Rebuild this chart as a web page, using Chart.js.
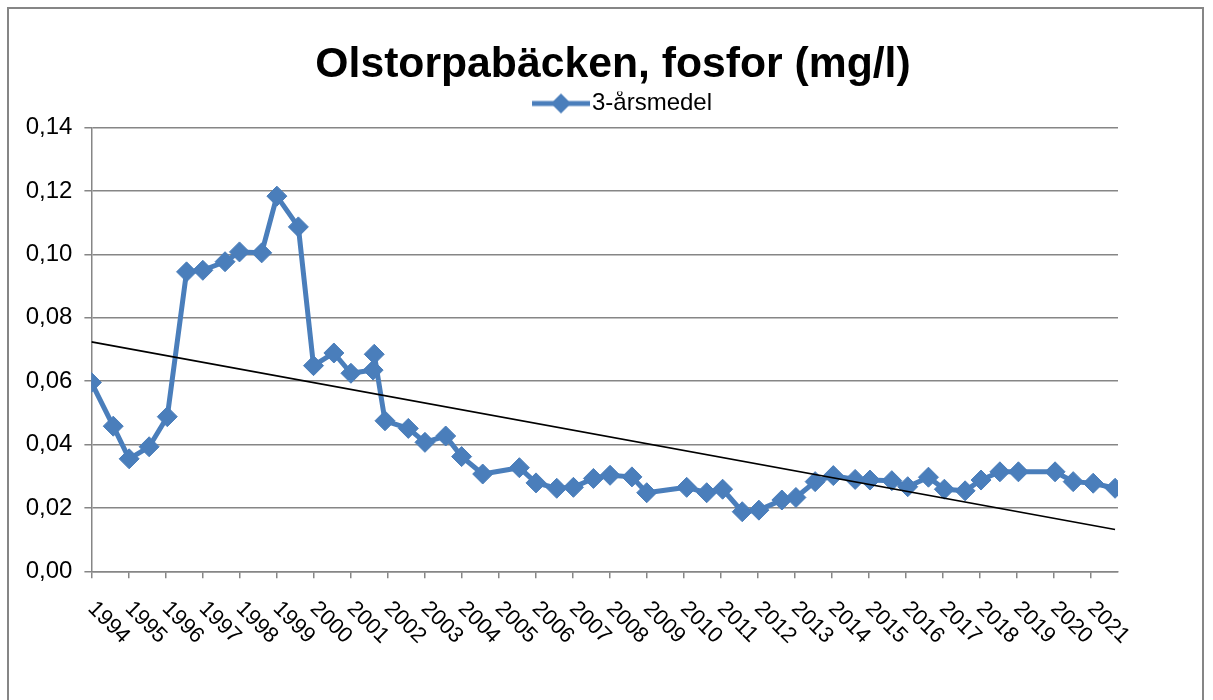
<!DOCTYPE html>
<html>
<head>
<meta charset="utf-8">
<script src="https://cdn.jsdelivr.net/npm/chart.js@4.4.0/dist/chart.umd.min.js"></script>
<style>
html,body{margin:0;padding:0;background:#fff;}
#c{display:block;}
</style>
</head>
<body>
<canvas id="c" width="1213" height="700"></canvas>
<script>
// ---- data ----
const titleText = 'Olstorpabäcken, fosfor (mg/l)';
const seriesName = '3-årsmedel';
const yearLabels = ['1994','1995','1996','1997','1998','1999','2000','2001','2002','2003','2004','2005','2006','2007',
  '2008','2009','2010','2011','2012','2013','2014','2015','2016','2017','2018','2019','2020','2021'];
const yTickLabels = ['0,00','0,02','0,04','0,06','0,08','0,10','0,12','0,14'];
const sampleYears = [1994.00, 1994.59, 1995.02, 1995.56, 1996.05, 1996.57, 1997.01, 1997.61, 1998.00, 1998.60,
  1999.01, 1999.59, 2000.00, 2000.55, 2001.01, 2001.61, 2001.64, 2001.93, 2002.56, 2003.01,
  2003.57, 2004.00, 2004.57, 2005.56, 2006.01, 2006.57, 2007.02, 2007.56, 2008.01, 2008.60,
  2009.00, 2010.08, 2010.62, 2011.05, 2011.58, 2012.03, 2012.65, 2013.03, 2013.55, 2014.04,
  2014.63, 2015.03, 2015.62, 2016.05, 2016.61, 2017.04, 2017.60, 2018.03, 2018.54, 2019.04,
  2020.03, 2020.52, 2021.06, 2021.65];
const phosphorus = [0.0596, 0.0458, 0.0355, 0.0393, 0.0488, 0.0945, 0.0950, 0.0977, 0.1008, 0.1005,
  0.1184, 0.1087, 0.0649, 0.0689, 0.0625, 0.0635, 0.0685, 0.0475, 0.0451, 0.0407,
  0.0427, 0.0362, 0.0307, 0.0327, 0.0279, 0.0262, 0.0265, 0.0293, 0.0303, 0.0298,
  0.0248, 0.0265, 0.0248, 0.0259, 0.0188, 0.0193, 0.0225, 0.0233, 0.0283, 0.0302,
  0.0290, 0.0288, 0.0286, 0.0267, 0.0297, 0.0259, 0.0254, 0.0288, 0.0314, 0.0314,
  0.0314, 0.0283, 0.0278, 0.0262];
const trendYears = [1994.00, 2021.65];
const trendValues = [0.0724, 0.0132];

// ---- styling ----
const BLUE = '#4A7EBB';
const GRID = '#868686';
const AXIS_FONT = '"Liberation Sans", Arial, sans-serif';

function hasFont(name){
  const c = document.createElement('canvas').getContext('2d');
  c.font = '40px monospace';
  const a = c.measureText(titleText).width;
  c.font = '40px "' + name + '", monospace';
  return Math.abs(c.measureText(titleText).width - a) > 0.5;
}
const titleFamily = hasFont('Liberation Sans Narrow') ? '"Liberation Sans Narrow", "Liberation Sans", sans-serif' : AXIS_FONT;
const mctx = document.createElement('canvas').getContext('2d');
mctx.font = 'bold 100px ' + titleFamily;
const titleSize = Math.round(595 * 100 / mctx.measureText(titleText).width * 10) / 10;
const titleMiddle = 80 - 0.3465 * titleSize;
const titlePadTop = titleMiddle - titleSize / 2;
const legendTop = 91.5;
const titlePadBottom = legendTop - titlePadTop - titleSize;

// legend symbol (line + diamond)
const LEG_FONT = 24;
mctx.font = LEG_FONT + 'px ' + AXIS_FONT;
const legTextW = mctx.measureText(seriesName).width;
const centerX = (13 + 1213) / 2;
const boxW = 2 * (592 - centerX) - LEG_FONT / 2 + legTextW; // text starts at 592
const boxCenter = centerX - (boxW + LEG_FONT / 2 + legTextW) / 2 + boxW / 2;
const lineL = 532, lineR = 590, diaX = 561;
const half = Math.ceil(Math.max(boxCenter - lineL, lineR - boxCenter)) + 1;
const sym = document.createElement('canvas');
sym.width = half * 2; sym.height = 26;
(function(){
  const g = sym.getContext('2d');
  const off = half - boxCenter;
  g.strokeStyle = BLUE; g.lineWidth = 5;
  g.beginPath(); g.moveTo(lineL + off, 13); g.lineTo(lineR + off, 13); g.stroke();
  g.fillStyle = BLUE;
  const dx = diaX + off, r = 10;
  g.beginPath(); g.moveTo(dx - r, 13); g.lineTo(dx, 13 - r); g.lineTo(dx + r, 13); g.lineTo(dx, 13 + r); g.closePath(); g.fill();
})();

const bgPlugin = {
  id: 'bg',
  beforeDraw(chart){
    const ctx = chart.ctx;
    ctx.save();
    ctx.fillStyle = '#fff';
    ctx.fillRect(0, 0, chart.width, chart.height);
    ctx.strokeStyle = GRID;
    ctx.lineWidth = 2;
    ctx.strokeRect(8, 8, 1195, 760);
    ctx.restore();
  }
};
const xLabelPlugin = {
  id: 'xlabels',
  afterDraw(chart){
    const ctx = chart.ctx, xs = chart.scales.x;
    ctx.save();
    ctx.font = '22px ' + AXIS_FONT;
    ctx.fillStyle = '#000';
    ctx.textAlign = 'left';
    ctx.textBaseline = 'middle';
    yearLabels.forEach(l => {
      const px = xs.getPixelForValue(Number(l));
      ctx.save();
      ctx.translate(px, chart.chartArea.bottom + 34);
      ctx.rotate(Math.PI / 4);
      ctx.fillText(l, 0, 0);
      ctx.restore();
    });
    ctx.restore();
  }
};

new Chart(document.getElementById('c'), {
  type: 'line',
  data: {
    datasets: [
      {
        label: seriesName,
        data: sampleYears.map((x, i) => ({x, y: phosphorus[i]})),
        borderColor: BLUE,
        backgroundColor: BLUE,
        borderWidth: 5,
        borderJoinStyle: 'round',
        borderCapStyle: 'round',
        pointStyle: 'rectRot',
        pointRadius: 10,
        pointBorderWidth: 1,
        pointBackgroundColor: BLUE,
        pointBorderColor: BLUE,
        tension: 0,
        order: 1
      },
      {
        label: 'trend',
        data: trendYears.map((x, i) => ({x, y: trendValues[i]})),
        borderColor: '#000',
        borderWidth: 1.7,
        pointRadius: 0,
        tension: 0,
        order: 0
      }
    ]
  },
  options: {
    responsive: false,
    devicePixelRatio: 1,
    animation: false,
    layout: { padding: { left: 13, right: 0, top: 0, bottom: 0 } },
    plugins: {
      title: {
        display: true,
        text: titleText,
        color: '#000',
        font: { family: titleFamily, size: titleSize, weight: 'bold', lineHeight: 1 },
        padding: { top: titlePadTop, bottom: titlePadBottom }
      },
      subtitle: {
        display: true,
        text: '',
        weight: 500,
        font: { size: 2.2, lineHeight: 1 },
        padding: { top: 0, bottom: 0 }
      },
      legend: {
        display: true,
        labels: {
          color: '#000',
          font: { family: AXIS_FONT, size: LEG_FONT },
          usePointStyle: true,
          pointStyleWidth: boxW,
          boxHeight: LEG_FONT,
          padding: 0,
          filter: item => item.datasetIndex === 0,
          generateLabels(chart){
            return Chart.defaults.plugins.legend.labels.generateLabels(chart).map(it => Object.assign(it, {pointStyle: sym}));
          }
        }
      },
      tooltip: { enabled: false }
    },
    scales: {
      x: {
        type: 'linear',
        position: 'bottom',
        min: 1994,
        max: 2021.73,
        ticks: { display: false, stepSize: 1, includeBounds: false },
        grid: { display: true, drawOnChartArea: false, drawTicks: true, tickLength: 7, color: GRID, lineWidth: 1.5 },
        border: { display: true, color: GRID, width: 1.5 },
        afterFit(s){ s.height = 128.7; }
      },
      y: {
        type: 'linear',
        position: 'left',
        min: 0,
        max: 0.14,
        ticks: {
          stepSize: 0.02,
          color: '#000',
          font: { family: AXIS_FONT, size: 24 },
          padding: 12,
          callback: v => yTickLabels[Math.round(v / 0.02)]
        },
        grid: { color: GRID, lineWidth: 1.5, tickLength: 7, drawTicks: true },
        border: { display: true, color: GRID, width: 1.5 },
        afterFit(s){ s.width = 78.4; }
      },
      yRight: {
        type: 'linear',
        position: 'right',
        display: true,
        ticks: { display: false },
        grid: { display: false },
        border: { display: false },
        afterFit(s){ s.width = 95; }
      }
    }
  },
  plugins: [bgPlugin, xLabelPlugin]
});
</script>
</body>
</html>
